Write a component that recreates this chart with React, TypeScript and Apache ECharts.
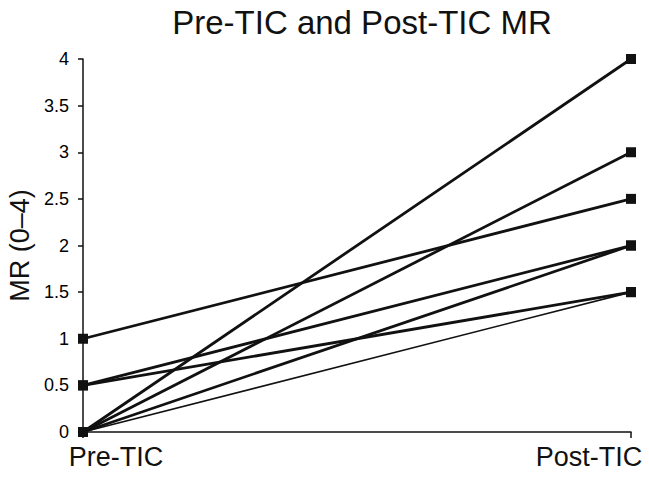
import React, { useEffect, useRef } from "react";
import * as echarts from "echarts";

const categories = ["Pre-TIC", "Post-TIC"];
const preValues = [1, 0.5, 0.5, 0, 0, 0, 0];
const postValues = [2.5, 2, 1.5, 4, 3, 2, 1.5];
const lineWidths = [2.8, 2.8, 2.8, 2.8, 2.8, 2.8, 1.6];
const yTicks = [0, 0.5, 1, 1.5, 2, 2.5, 3, 3.5, 4];

export default function App() {
  const ref = useRef<HTMLDivElement>(null);
  useEffect(() => {
    if (!ref.current) return;
    const chart = echarts.init(ref.current, null, { renderer: "svg" });
    const font = "Liberation Sans, Arial, sans-serif";
    const series = preValues.map((pre, i) => ({
      type: "line",
      name: "Patient " + (i + 1),
      data: [pre, postValues[i]],
      symbol: "rect",
      symbolSize: 10,
      lineStyle: { color: "#111", width: lineWidths[i] },
      itemStyle: { color: "#111" },
      z: 10 - i,
    }));
    chart.setOption({
      animation: false,
      backgroundColor: "#fff",
      title: {
        text: "Pre-TIC and Post-TIC MR",
        left: 357,
        textAlign: "center",
        top: 1,
        textStyle: { fontFamily: font, fontSize: 33, fontWeight: "normal", color: "#111" },
      },
      grid: { left: 83, right: 18, top: 59, bottom: 50, containLabel: false, outerBoundsMode: "none" },
      xAxis: {
        type: "category",
        data: categories,
        boundaryGap: false,
        axisLine: { lineStyle: { color: "#111", width: 1.5 } },
        axisTick: { show: true, length: 6, lineStyle: { color: "#111", width: 1.5 } },
        axisLabel: {
          fontFamily: font,
          fontSize: 27,
          color: "#111",
          margin: 11,
          formatter: (v: string) => (v === categories[0] ? "{l|" + v + "}" : "{r|" + v + "}"),
          rich: {
            l: { fontFamily: font, fontSize: 27, color: "#111", padding: [0, 0, 0, 66] },
            r: { fontFamily: font, fontSize: 27, color: "#111", padding: [0, 84, 0, 0] },
          },
        },
      },
      yAxis: {
        type: "value",
        min: 0,
        max: 4,
        interval: 0.5,
        name: "MR (0–4)",
        nameLocation: "middle",
        nameGap: 49,
        nameTextStyle: { fontFamily: font, fontSize: 27, color: "#111" },
        axisLine: { show: true, lineStyle: { color: "#111", width: 1.5 } },
        axisTick: { show: true, length: 5, lineStyle: { color: "#111", width: 1.5 } },
        splitLine: { show: false },
        axisLabel: {
          fontFamily: font,
          fontSize: 18,
          color: "#000",
          margin: 14,
          formatter: (v: number) => (yTicks.includes(v) ? String(v) : ""),
        },
      },
      series,
    });
    return () => chart.dispose();
  }, []);
  return <div ref={ref} style={{ width: 649, height: 482, position: "absolute", left: 0, top: 0 }} />;
}
